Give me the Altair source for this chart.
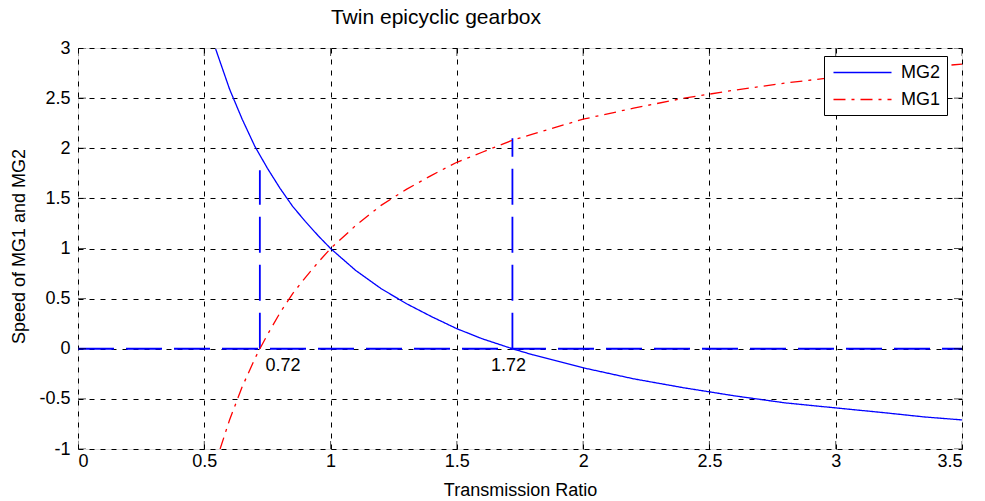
import altair as alt
import pandas as pd

# ---- data ----
mg2_x = [0.545, 0.6, 0.65, 0.7, 0.75, 0.8, 0.85, 0.9, 0.95, 1.0, 1.1, 1.2, 1.3, 1.4, 1.5,
         1.6, 1.72, 1.8, 2.0, 2.2, 2.4, 2.6, 2.8, 3.0, 3.2, 3.35, 3.5]
mg2_y = [2.99, 2.59, 2.29, 2.02, 1.80, 1.60, 1.42, 1.27, 1.13, 1.00, 0.78, 0.60, 0.45, 0.32, 0.20,
         0.10, 0.00, -0.06, -0.19, -0.30, -0.39, -0.47, -0.54, -0.59, -0.64, -0.68, -0.71]

mg1_x = [0.5625, 0.6, 0.65, 0.7, 0.72, 0.75, 0.8, 0.85, 0.9, 0.95, 1.0, 1.1, 1.2, 1.3, 1.4, 1.5,
         1.6, 1.72, 1.8, 2.0, 2.2, 2.4, 2.6, 2.8, 3.0, 3.2, 3.5]
mg1_y = [-1.00, -0.71, -0.38, -0.10, 0.00, 0.14, 0.36, 0.55, 0.71, 0.86, 1.00, 1.23, 1.43, 1.59, 1.73, 1.86,
         1.96, 2.08, 2.14, 2.29, 2.40, 2.50, 2.58, 2.65, 2.71, 2.77, 2.84]

series_names = ["MG2", "MG1"]
series_colors = ["#0000FF", "#FF0000"]

# reference (dashed blue) lines: start/end
ref_x = [0.0, 0.72, 1.72]
ref_x2 = [3.5, 0.72, 1.72]
ref_y = [0.0, 0.0, 0.0]
ref_y2 = [0.0, 1.78, 2.10]

# annotation texts
ann_text = ["0.72", "1.72"]
ann_x = [0.742, 1.635]
ann_y = [-0.17, -0.17]

x_ticks = [0, 0.5, 1, 1.5, 2, 2.5, 3, 3.5]
y_ticks = [-1, -0.5, 0, 0.5, 1, 1.5, 2, 2.5, 3]
x_domain = [0, 3.5]
y_domain = [-1, 3]

FONT = "Liberation Sans"

curves = pd.DataFrame(
    {"x": mg2_x + mg1_x,
     "y": mg2_y + mg1_y,
     "series": ["MG2"] * len(mg2_x) + ["MG1"] * len(mg1_x)}
)
refs = pd.DataFrame({"x": ref_x, "x2": ref_x2, "y": ref_y, "y2": ref_y2})
ann = pd.DataFrame({"t": ann_text, "x": ann_x, "y": ann_y})
xt = pd.DataFrame({"x": x_ticks * 2, "y": [y_domain[0]] * len(x_ticks) + [y_domain[1]] * len(x_ticks)})
yt = pd.DataFrame({"y": y_ticks * 2, "x": [x_domain[0]] * len(y_ticks) + [x_domain[1]] * len(y_ticks)})

xscale = alt.Scale(domain=x_domain, nice=False, zero=False)
yscale = alt.Scale(domain=y_domain, nice=False, zero=False)

xaxis = alt.Axis(values=x_ticks, labelExpr="'' + datum.value", title="Transmission Ratio",
                 grid=True, gridDash=[5, 6], gridColor="black", gridOpacity=1, gridWidth=1,
                 ticks=False, tickSize=0, domain=False, labelPadding=3,
                 labelFont=FONT, labelFontSize=18, labelColor="black",
                 titleFont=FONT, titleFontSize=18, titleFontWeight="normal", titleColor="black",
                 titleY=46, titleBaseline="alphabetic")
yaxis = alt.Axis(values=y_ticks, labelExpr="'' + datum.value", title="Speed of MG1 and MG2",
                 grid=True, gridDash=[5, 6], gridColor="black", gridOpacity=1, gridWidth=1,
                 ticks=False, tickSize=0, domain=False, labelPadding=8,
                 labelFont=FONT, labelFontSize=18, labelColor="black",
                 titleFont=FONT, titleFontSize=18, titleFontWeight="normal", titleColor="black",
                 titleX=-54, titleY=198, titleBaseline="alphabetic", titleAlign="center")

legend = alt.Legend(title=None, orient="none", legendX=746, legendY=8,
                    symbolType="M-3,0H3", symbolSize=374, symbolStrokeWidth=1.3,
                    symbolOffset=22, labelOffset=28, rowPadding=7, padding=6,
                    labelFont=FONT, labelFontSize=18, labelColor="black",
                    strokeColor="black", fillColor="white")

lines = alt.Chart(curves).mark_line(strokeWidth=1.3, clip=True).encode(
    x=alt.X("x:Q", scale=xscale, axis=xaxis),
    y=alt.Y("y:Q", scale=yscale, axis=yaxis),
    color=alt.Color("series:N", scale=alt.Scale(domain=series_names, range=series_colors), legend=legend),
    strokeDash=alt.StrokeDash("series:N",
                              scale=alt.Scale(domain=series_names, range=[[1, 0], [12, 6, 3, 6]]),
                              legend=legend),
    order="x:Q",
)

ref_lines = alt.Chart(refs).mark_rule(color="#0000FF", strokeWidth=1.8, strokeDash=[36, 12]).encode(
    x="x:Q", x2="x2:Q", y="y:Q", y2="y2:Q"
)

labels = alt.Chart(ann).mark_text(align="left", baseline="middle", font=FONT, fontSize=18,
                                  color="black").encode(x="x:Q", y="y:Q", text="t:N")

xtick_marks = alt.Chart(xt).mark_tick(orient="vertical", size=16, thickness=1, color="black",
                                      clip=True).encode(x="x:Q", y="y:Q")
ytick_marks = alt.Chart(yt).mark_tick(orient="horizontal", size=16, thickness=1, color="black",
                                      clip=True).encode(x="x:Q", y="y:Q")

chart = alt.layer(ref_lines, lines, labels, xtick_marks, ytick_marks).properties(
    width=884, height=401,
    autosize=alt.AutoSizeParams(type="none"),
    padding={"left": 78, "top": 48, "right": 23, "bottom": 52},
    title=alt.TitleParams("Twin epicyclic gearbox", font=FONT, fontSize=21, fontWeight="normal",
                          color="black", anchor="middle", dx=-84, dy=30, offset=20, baseline="bottom"),
).configure_view(stroke="black", strokeWidth=1.3).configure(background="white")

chart.save("out.html", embed_options={"renderer": "svg", "actions": False})
